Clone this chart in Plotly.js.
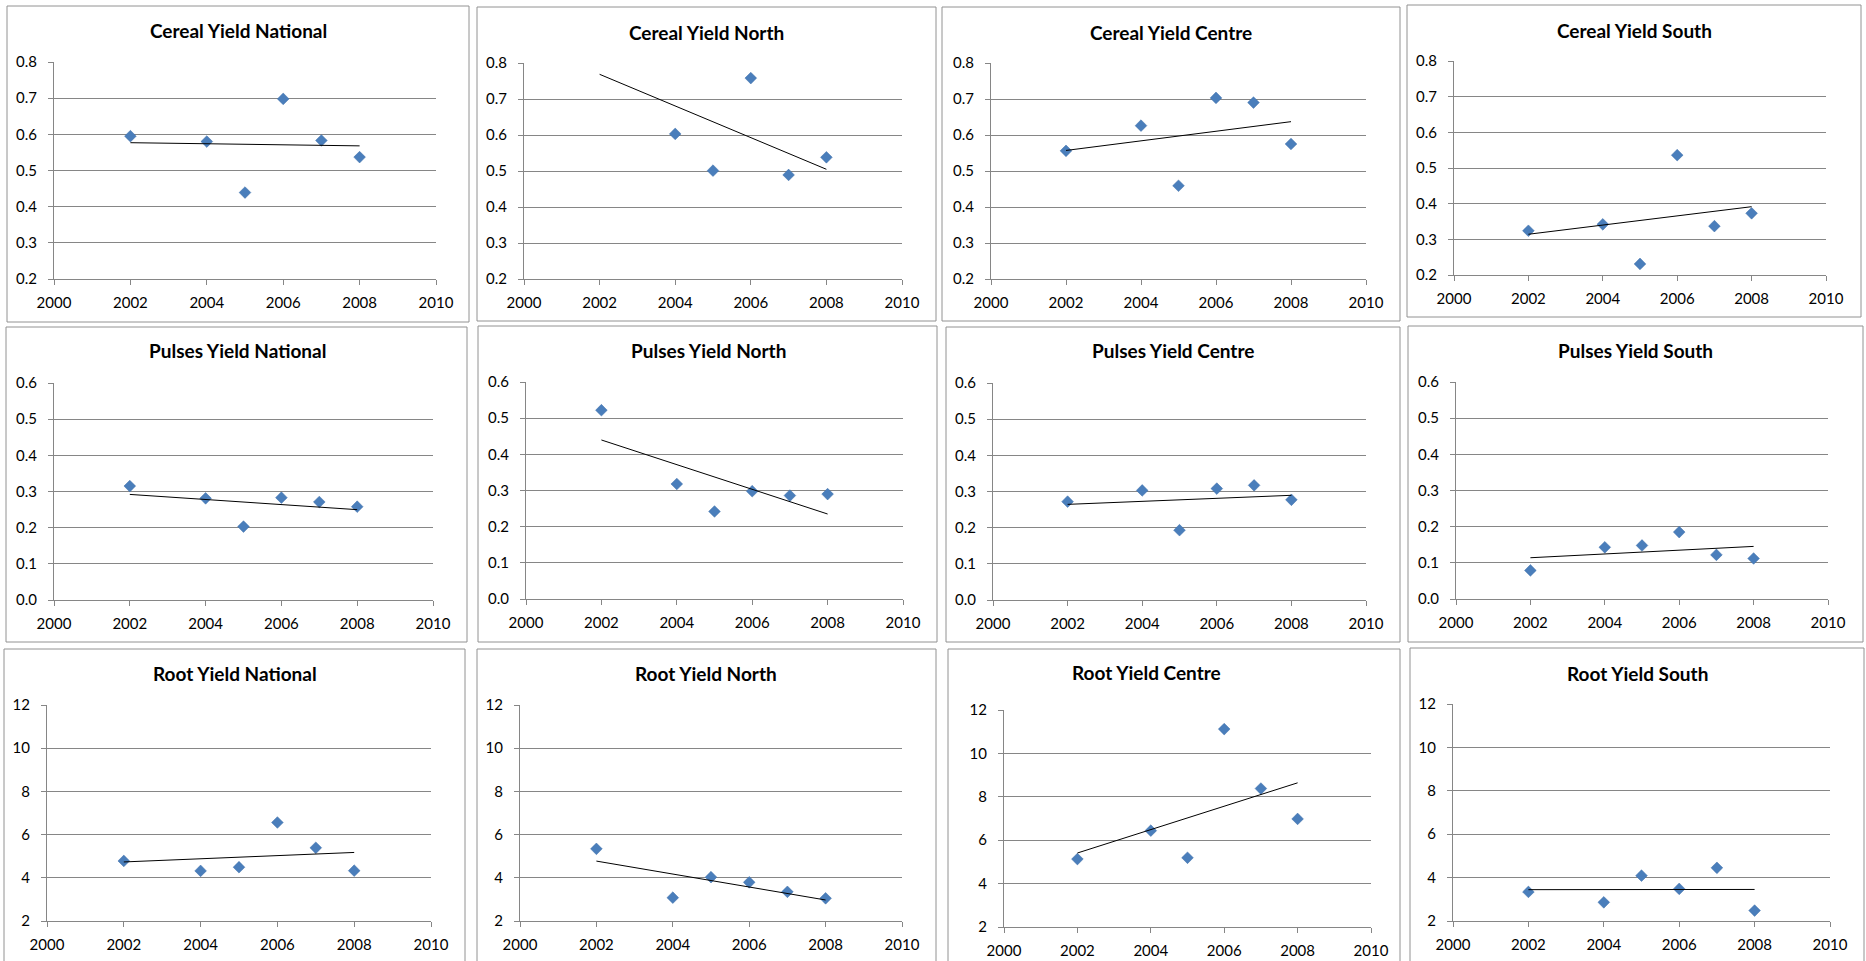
<!DOCTYPE html>
<html>
<head>
<meta charset="utf-8">
<script src="https://cdn.plot.ly/plotly-3.0.1.min.js"></script>
<style>
  html, body { margin: 0; padding: 0; background: #ffffff; }
  #chart { width: 1866px; height: 961px; }
</style>
</head>
<body>
<div id="chart"></div>
<script>
// ---------------- DATA ----------------
const years = [2002, 2004, 2005, 2006, 2007, 2008];

const cerealNational = [0.595, 0.580, 0.439, 0.698, 0.583, 0.537];
const cerealNorth    = [0.843, 0.603, 0.501, 0.758, 0.489, 0.538];
const cerealCentre   = [0.556, 0.626, 0.459, 0.703, 0.690, 0.575];
const cerealSouth    = [0.324, 0.342, 0.231, 0.536, 0.337, 0.373];

const pulsesNational = [0.315, 0.281, 0.203, 0.283, 0.271, 0.258];
const pulsesNorth    = [0.522, 0.318, 0.242, 0.298, 0.286, 0.290];
const pulsesCentre   = [0.272, 0.303, 0.193, 0.308, 0.317, 0.277];
const pulsesSouth    = [0.079, 0.143, 0.148, 0.185, 0.122, 0.112];

const rootNational   = [4.78, 4.32, 4.49, 6.56, 5.39, 4.33];
const rootNorth      = [5.34, 3.08, 4.03, 3.79, 3.35, 3.05];
const rootCentre     = [5.13, 6.44, 5.19, 11.12, 8.38, 6.98];
const rootSouth      = [3.34, 2.86, 4.09, 3.48, 4.45, 2.48];

const panelTitles = [
  "Cereal Yield National", "Cereal Yield North", "Cereal Yield Centre", "Cereal Yield South",
  "Pulses Yield National", "Pulses Yield North", "Pulses Yield Centre", "Pulses Yield South",
  "Root Yield National", "Root Yield North", "Root Yield Centre", "Root Yield South"
];
const panelSeries = [
  cerealNational, cerealNorth, cerealCentre, cerealSouth,
  pulsesNational, pulsesNorth, pulsesCentre, pulsesSouth,
  rootNational, rootNorth, rootCentre, rootSouth
];

// x axis
const xRange = [2000, 2010];
const xStep = 2;
// y axes per row
const rowYRange = [[0.2, 0.8], [0, 0.6], [2, 12]];
const rowYStep = [0.1, 0.1, 2];
const rowYFormat = [".1f", ".1f", "d"];

// ---------------- LAYOUT GEOMETRY (pixels) ----------------
const W = 1866, H = 961;
// [boxL, boxT, boxR, boxB, plotL, plotT, plotR, plotB, titleCx, titleCy]
const geo = [
  [7, 6, 469, 322,     54, 62, 436, 279,     238, 30],
  [477, 7, 936, 321,   524, 63, 902, 279,    706, 32],
  [942, 7, 1400, 321,  991, 63, 1366, 279,   1171, 32],
  [1407, 5, 1861, 317, 1454, 61, 1826, 275,  1634, 30],

  [6, 327, 467, 642,   54, 383, 433, 600,    237, 351],
  [478, 326, 937, 642, 526, 382, 903, 599,   708, 351],
  [946, 327, 1400, 642, 993, 383, 1366, 600, 1173, 351],
  [1408, 326, 1863, 642, 1456, 382, 1828, 599, 1635, 351],

  [4, 649, 465, 990,   47, 705, 431, 921,    235, 673],
  [477, 649, 936, 990, 520, 705, 902, 921,   706, 673],
  [948, 649, 1400, 990, 1004, 710, 1371, 927, 1146, 672],
  [1410, 648, 1864, 990, 1453, 704, 1830, 921, 1637, 673]
];

function linFit(xs, ys) {
  const n = xs.length;
  const mx = xs.reduce((a, b) => a + b, 0) / n;
  const my = ys.reduce((a, b) => a + b, 0) / n;
  let sxy = 0, sxx = 0;
  for (let i = 0; i < n; i++) { sxy += (xs[i] - mx) * (ys[i] - my); sxx += (xs[i] - mx) ** 2; }
  const b = sxy / sxx;
  const a = my - b * mx;
  return x => a + b * x;
}

const gridColor = "#868686";
const borderColor = "#929292";
const markerColor = "#4A7EBB";
const fontFam = "Lato, 'Open Sans', 'Liberation Sans', sans-serif";

const traces = [];
const layout = {
  width: W, height: H,
  margin: { l: 0, r: 0, t: 0, b: 0 },
  paper_bgcolor: "#ffffff",
  plot_bgcolor: "rgba(0,0,0,0)",
  showlegend: false,
  shapes: [],
  annotations: [],
  font: { family: fontFam, color: "#000000" }
};

for (let i = 0; i < 12; i++) {
  const row = Math.floor(i / 4);
  const g = geo[i];
  const suffix = i === 0 ? "" : String(i + 1);
  const xa = "x" + suffix, ya = "y" + suffix;
  const ys = panelSeries[i];

  traces.push({
    type: "scatter", mode: "markers",
    x: years, y: ys, xaxis: xa, yaxis: ya,
    marker: { symbol: "diamond", size: 9, color: markerColor, line: { color: "#3F6FA8", width: 0.5 } },
    hoverinfo: "skip", cliponaxis: true
  });

  const f = linFit(years, ys);
  const x0 = Math.min(...years), x1 = Math.max(...years);
  traces.push({
    type: "scatter", mode: "lines",
    x: [x0, x1], y: [f(x0), f(x1)], xaxis: xa, yaxis: ya,
    line: { color: "#000000", width: 1 },
    hoverinfo: "skip", cliponaxis: true
  });

  layout["xaxis" + suffix] = {
    domain: [g[4] / W, g[6] / W],
    anchor: ya,
    range: xRange, autorange: false,
    tick0: xRange[0], dtick: xStep, tickmode: "linear",
    showgrid: false, zeroline: false,
    showline: true, linecolor: gridColor, linewidth: 1,
    ticks: "outside", ticklen: 5, tickcolor: gridColor, tickwidth: 1,
    tickfont: { family: fontFam, size: 15, color: "#000000" },
    ticklabelstandoff: 5,
    fixedrange: true
  };
  layout["yaxis" + suffix] = {
    domain: [1 - g[7] / H, 1 - g[5] / H],
    anchor: xa,
    range: rowYRange[row], autorange: false,
    tick0: rowYRange[row][0], dtick: rowYStep[row], tickmode: "linear",
    tickformat: rowYFormat[row],
    showgrid: true, gridcolor: gridColor, gridwidth: 1,
    zeroline: false,
    showline: true, linecolor: gridColor, linewidth: 1,
    ticks: "outside", ticklen: 5, tickcolor: gridColor, tickwidth: 1,
    tickfont: { family: fontFam, size: 15, color: "#000000" },
    ticklabelstandoff: 8,
    fixedrange: true
  };

  layout.shapes.push({
    type: "rect", xref: "paper", yref: "paper",
    x0: g[0] / W, x1: g[2] / W, y0: 1 - g[3] / H, y1: 1 - g[1] / H,
    line: { color: borderColor, width: 1 }, fillcolor: "rgba(0,0,0,0)", layer: "below"
  });

  layout.annotations.push({
    xref: "paper", yref: "paper",
    x: g[8] / W, y: 1 - g[9] / H,
    xanchor: "center", yanchor: "middle",
    text: panelTitles[i], showarrow: false,
    font: { family: fontFam, size: 19, color: "#000000", weight: 700 }
  });
}

Plotly.newPlot("chart", traces, layout, { staticPlot: true, displayModeBar: false });
</script>
</body>
</html>
